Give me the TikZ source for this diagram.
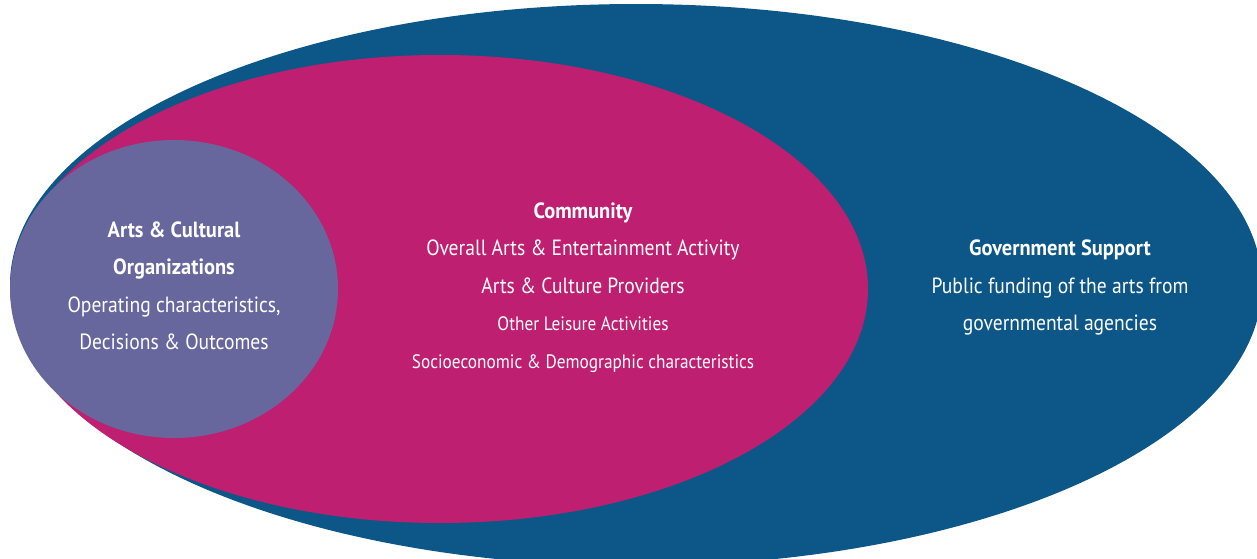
\documentclass[tikz,border=0pt]{standalone}
\usepackage{fontspec}
\setmainfont{PT Sans}[FakeStretch=0.89, BoldFeatures={FakeStretch=0.93}]
\usetikzlibrary{shapes.geometric}
\definecolor{govblue}{HTML}{0D5788}
\definecolor{commag}{HTML}{BE1F70}
\definecolor{artpurp}{HTML}{67669D}
\tikzset{
  blob/.style={ellipse, inner sep=0pt, draw=none},
  txt/.style={text=white, align=center, inner sep=0pt, font=\fontsize{22}{37.5}\selectfont},
}
\newcommand{\smalltxt}{\fontsize{19.4}{37.5}\selectfont}
\begin{document}
\begin{tikzpicture}[x=1pt,y=-1pt]
\useasboundingbox (0,0) rectangle (1257,558);
\clip (0,0) rectangle (1257,558);
\node[blob, fill=govblue, minimum width=1252pt, minimum height=562pt] (govell) at (636,285) {};
\node[blob, fill=commag, minimum width=856pt, minimum height=468pt] (comell) at (440,289) {};
\node[blob, fill=artpurp, minimum width=328pt, minimum height=298pt] (artell) at (174,289) {};
\node[txt] (arttxt) at (174,286) {\textbf{Arts \& Cultural}\\ \textbf{Organizations}\\ Operating characteristics,\\ Decisions \& Outcomes};
\node[txt] (comtxt) at (583,287.5) {\textbf{Community}\\ Overall Arts \& Entertainment Activity\\ Arts \& Culture Providers\\ {\smalltxt Other Leisure Activities}\\ {\smalltxt Socioeconomic \& Demographic characteristics}};
\node[txt] (govtxt) at (1060,287.5) {\textbf{Government Support}\\ Public funding of the arts from\\ governmental agencies};
\end{tikzpicture}
\end{document}
